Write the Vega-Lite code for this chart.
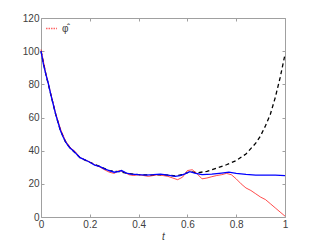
{
  "$schema": "https://vega.github.io/schema/vega-lite/v6.json",
  "width": 244,
  "height": 199,
  "autosize": "none",
  "padding": {"left": 41, "top": 18, "right": 30, "bottom": 27},
  "background": "white",
  "config": {
    "view": {"stroke": null},
    "font": "Liberation Sans",
    "axis": {"domainColor": "#a0a0a0", "tickColor": "#a0a0a0", "labelColor": "#404040", "labelFontSize": 10, "grid": false, "tickSize": -3, "labelPadding": 5, "domainWidth": 1}
  },
  "datasets": {
    "blue": [
      {"t":0,"v":100},{"t":0.01,"v":92},{"t":0.02,"v":86},{"t":0.03,"v":80.5},{"t":0.04,"v":74},{"t":0.05,"v":68},{"t":0.06,"v":62},{"t":0.07,"v":57},{"t":0.08,"v":52},{"t":0.09,"v":48.5},{"t":0.10,"v":45.5},{"t":0.11,"v":43.2},{"t":0.12,"v":41.5},{"t":0.13,"v":40.2},{"t":0.14,"v":38.8},{"t":0.15,"v":37.2},{"t":0.16,"v":35.8},{"t":0.18,"v":34.5},{"t":0.20,"v":33},{"t":0.22,"v":31.3},{"t":0.24,"v":30.5},{"t":0.26,"v":29},{"t":0.28,"v":28},{"t":0.30,"v":27},{"t":0.32,"v":27.5},{"t":0.33,"v":28},{"t":0.35,"v":26.5},{"t":0.37,"v":25.8},{"t":0.40,"v":25.5},{"t":0.43,"v":25.3},{"t":0.46,"v":25.5},{"t":0.49,"v":25.8},{"t":0.52,"v":25.2},{"t":0.55,"v":24.5},{"t":0.57,"v":25},{"t":0.59,"v":26},{"t":0.61,"v":27.3},{"t":0.63,"v":26.5},{"t":0.66,"v":25.5},{"t":0.70,"v":25.8},{"t":0.74,"v":26.5},{"t":0.77,"v":27},{"t":0.80,"v":26.3},{"t":0.84,"v":25.7},{"t":0.88,"v":25.3},{"t":0.92,"v":25.2},{"t":0.96,"v":25.3},{"t":1.0,"v":25}
    ],
    "red": [
      {"t":0,"v":101},{"t":0.02,"v":86.5},{"t":0.04,"v":74.5},{"t":0.06,"v":62.5},{"t":0.08,"v":53},{"t":0.10,"v":46},{"t":0.12,"v":41.8},{"t":0.14,"v":39.5},{"t":0.16,"v":35.8},{"t":0.18,"v":34.5},{"t":0.20,"v":33.2},{"t":0.22,"v":31.5},{"t":0.24,"v":30.2},{"t":0.26,"v":28.5},{"t":0.28,"v":27},{"t":0.30,"v":26.3},{"t":0.32,"v":28},{"t":0.34,"v":27.2},{"t":0.36,"v":25.5},{"t":0.38,"v":25},{"t":0.40,"v":25.5},{"t":0.42,"v":25},{"t":0.44,"v":24.5},{"t":0.46,"v":25},{"t":0.48,"v":25.5},{"t":0.50,"v":25},{"t":0.52,"v":24.5},{"t":0.54,"v":23.5},{"t":0.56,"v":22.5},{"t":0.58,"v":24},{"t":0.60,"v":28},{"t":0.62,"v":28.5},{"t":0.64,"v":26},{"t":0.66,"v":23},{"t":0.68,"v":23.5},{"t":0.70,"v":24.3},{"t":0.72,"v":25},{"t":0.74,"v":25.5},{"t":0.76,"v":26.3},{"t":0.78,"v":25.5},{"t":0.80,"v":23},{"t":0.82,"v":20},{"t":0.84,"v":17.5},{"t":0.86,"v":16},{"t":0.88,"v":14},{"t":0.90,"v":12},{"t":0.92,"v":10.5},{"t":0.94,"v":8},{"t":0.96,"v":5.5},{"t":0.98,"v":3},{"t":1.0,"v":0.5}
    ],
    "black": [
      {"t":0,"v":100},{"t":0.02,"v":86},{"t":0.04,"v":74},{"t":0.06,"v":62},{"t":0.08,"v":52},{"t":0.10,"v":45.5},{"t":0.12,"v":41.5},{"t":0.14,"v":38.8},{"t":0.16,"v":35.8},{"t":0.20,"v":33},{"t":0.24,"v":30.5},{"t":0.28,"v":28},{"t":0.32,"v":27.3},{"t":0.36,"v":26.2},{"t":0.40,"v":25.5},{"t":0.45,"v":25.3},{"t":0.50,"v":25.5},{"t":0.55,"v":24.8},{"t":0.58,"v":25.5},{"t":0.61,"v":27.3},{"t":0.64,"v":26.7},{"t":0.68,"v":27.5},{"t":0.72,"v":29.5},{"t":0.76,"v":31.5},{"t":0.80,"v":34},{"t":0.84,"v":38},{"t":0.88,"v":44.5},{"t":0.90,"v":49},{"t":0.92,"v":55},{"t":0.94,"v":62},{"t":0.96,"v":72},{"t":0.98,"v":84},{"t":1.0,"v":98}
    ]
  },
  "layer": [
    {
      "data": {"name": "black"},
      "mark": {"type": "line", "color": "black", "strokeWidth": 1.3, "strokeDash": [4, 3]},
      "encoding": {
        "x": {"field": "t", "type": "quantitative", "scale": {"domain": [0, 1], "nice": false}, "axis": {"orient": "bottom", "values": [0, 0.2, 0.4, 0.6, 0.8, 1], "format": "~g", "title": "t", "titleFontStyle": "italic", "titleFontWeight": "normal", "titleFontSize": 10, "titleColor": "#404040", "titlePadding": 2, "labelFlush": false}},
        "y": {"field": "v", "type": "quantitative", "scale": {"domain": [0, 120], "nice": false}, "axis": {"orient": "left", "values": [0, 20, 40, 60, 80, 100, 120], "title": null}}
      }
    },
    {
      "data": {"name": "red"},
      "mark": {"type": "line", "strokeWidth": 1, "opacity": 0.7},
      "encoding": {
        "x": {"field": "t", "type": "quantitative", "axis": {"orient": "top", "labels": false, "title": null, "values": [0, 0.2, 0.4, 0.6, 0.8, 1]}},
        "y": {"field": "v", "type": "quantitative", "axis": {"orient": "right", "labels": false, "title": null, "values": [0, 20, 40, 60, 80, 100, 120]}},
        "color": {"datum": "φ̂", "type": "nominal", "scale": {"range": ["#ff0000"]}, "legend": {"orient": "top-left", "title": null, "symbolType": "stroke", "symbolDash": [1.5, 1], "symbolStrokeWidth": 1.5, "symbolSize": 120, "symbolOpacity": 0.6, "labelFontSize": 10, "labelColor": "#404040", "offset": 4, "padding": 0}}
      }
    },
    {
      "data": {"name": "blue"},
      "mark": {"type": "line", "color": "#0000ff", "strokeWidth": 1.3},
      "encoding": {
        "x": {"field": "t", "type": "quantitative", "axis": null},
        "y": {"field": "v", "type": "quantitative", "axis": null}
      }
    }
  ],
  "resolve": {"axis": {"x": "independent", "y": "independent"}}
}
